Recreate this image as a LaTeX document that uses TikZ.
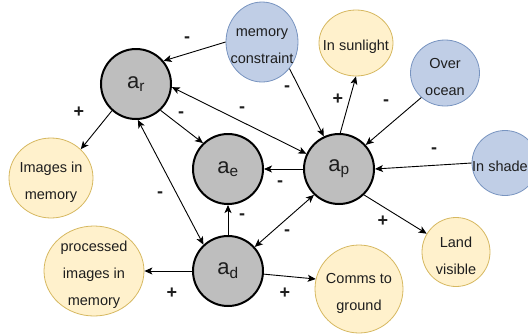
\documentclass[tikz,border=0pt]{standalone}
\usepackage{fontspec}
\setmainfont{Liberation Sans}
\usetikzlibrary{arrows.meta,shapes.geometric}

\definecolor{agentgray}{RGB}{190,190,190}
\definecolor{bluefill}{RGB}{192,206,230}
\definecolor{bluestroke}{RGB}{120,148,192}
\definecolor{yellowfill}{RGB}{255,241,204}
\definecolor{yellowstroke}{RGB}{214,184,96}
\definecolor{inktext}{RGB}{30,30,30}

\tikzset{
  agent/.style={circle, draw=black, line width=2pt, fill=agentgray,
    minimum size=70pt, inner sep=0pt, text=inktext,
    font=\fontsize{22}{24}\selectfont},
  prop/.style={ellipse, line width=0.8pt, inner sep=0pt,
    label={[align=center, text=inktext, yshift=-4pt, font=\fontsize{14.5}{27}\selectfont]center:#1}},
  blueprop/.style={prop={#1}, draw=bluestroke, fill=bluefill},
  yellowprop/.style={prop={#1}, draw=yellowstroke, fill=yellowfill},
  sign/.style={text=inktext, font=\bfseries\fontsize{18}{18}\selectfont, inner sep=0pt},
  link/.style={-{Stealth[length=8pt,width=7pt,inset=2pt]}, line width=0.9pt},
  duallink/.style={{Stealth[length=8pt,width=7pt,inset=2pt]}-{Stealth[length=8pt,width=7pt,inset=2pt]}, line width=0.9pt}
}

\begin{document}
\begin{tikzpicture}[x=1pt,y=-1pt]
\useasboundingbox (0,0) rectangle (528,333);

% agents
\node[agent] (ar) at (136,84) {a\textsubscript{r}};
\node[agent] (ae) at (228,169) {a\textsubscript{e}};
\node[agent] (ad) at (228,271) {a\textsubscript{d}};
\node[agent] (ap) at (339,169) {a\textsubscript{p}};

% conditions and effects
\node[blueprop={memory\\constraint}, minimum width=72pt, minimum height=80pt] (mc) at (262,42) {};
\node[yellowprop={In sunlight}, minimum width=74pt, minimum height=66pt] (sun) at (356,43) {};
\node[blueprop={Over\\ocean}, minimum width=69pt, minimum height=66pt] (ocean) at (445,73) {};
\node[ellipse, line width=0.8pt, draw=bluestroke, fill=bluefill, inner sep=0pt,
      minimum width=66pt, minimum height=65pt,
      label={[text=inktext, font=\fontsize{14.5}{27}\selectfont, xshift=-5pt, yshift=-3pt]center:In shade}] (shade) at (505,163) {};
\node[yellowprop={Images in\\memory}, minimum width=84pt, minimum height=80pt] (imgmem) at (51,178) {};
\node[yellowprop={processed\\images in\\memory}, minimum width=100pt, minimum height=90pt] (proc) at (94,271) {};
\node[yellowprop={Comms to\\ground}, minimum width=88pt, minimum height=88pt] (comms) at (359,289) {};
\node[yellowprop={Land\\visible}, minimum width=68pt, minimum height=69pt] (land) at (456,252) {};

% influences
\draw[link] (mc.180) -- (ar.40);
\draw[link] (mc.-44) -- (ap.115);
\draw[link] (ap.88) -- (sun.south);
\draw[link] (ocean.226) -- (ap.42);
\draw[link] (shade.west) -- (ap.east);
\draw[link] (ap.-46) -- (land.148);
\draw[duallink] (ar.-5) -- (ap.155);
\draw[link] (ar.-47) -- (ae.134);
\draw[link] (ar.228) -- (imgmem.44);
\draw[duallink] (ar.-87) -- (ad.133);
\draw[link] (ad.north) -- (ae.south);
\draw[link] (ap.west) -- (ae.east);
\draw[duallink] (ad.42) -- (ap.226);
\draw[link] (ad.west) -- (proc.east);
\draw[link] (ad.-5) -- (comms.167);

% signs
\node[sign] (s1) at (187,40) {-};
\node[sign] (s2) at (287,89) {-};
\node[sign] (s3) at (338,99) {+};
\node[sign] (s4) at (386,103) {-};
\node[sign] (s5) at (434,151) {-};
\node[sign] (s6) at (383,221) {+};
\node[sign] (s7) at (242,110) {-};
\node[sign] (s8) at (181,115) {-};
\node[sign] (s9) at (79,112) {+};
\node[sign] (s10) at (160,195) {-};
\node[sign] (s11) at (242,217) {-};
\node[sign] (s12) at (280,184) {-};
\node[sign] (s13) at (287,233) {-};
\node[sign] (s14) at (172,293) {+};
\node[sign] (s15) at (285,293) {+};
\end{tikzpicture}
\end{document}
